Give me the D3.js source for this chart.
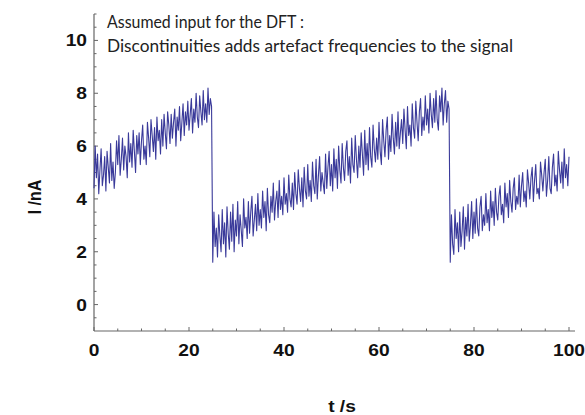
<!DOCTYPE html>
<html><head><meta charset="utf-8">
<script src="https://cdn.jsdelivr.net/npm/d3@7"></script>
<style>body{margin:0;background:#fff}svg{display:block}</style>
</head><body>
<script>
// time step of the samples (s)
const dt = 0.25;
// current values I (nA), ramp 1: t = 0 .. 24.75
const seg1 = [4.4,6.0,4.8,5.7,4.2,5.1,5.9,4.5,4.9,5.6,
4.3,5.8,5.2,4.6,6.1,4.7,5.4,4.4,5.0,6.2,
5.3,6.4,4.9,5.5,6.3,5.1,6.0,5.6,4.8,6.5,
5.4,6.1,5.2,6.6,5.8,5.0,6.4,5.7,6.5,5.3,
6.2,6.8,5.5,6.0,5.3,6.9,6.3,5.6,7.0,6.4,
5.8,6.7,5.5,7.1,6.2,6.6,5.7,7.0,6.0,7.2,
6.5,5.9,7.3,6.8,6.1,7.2,6.3,6.9,7.4,6.0,
7.1,6.6,7.5,6.2,6.9,7.6,6.4,7.3,6.8,7.7,
6.6,7.2,7.8,6.5,7.4,6.9,8.0,7.1,6.7,7.9,
7.3,6.8,8.1,7.0,7.6,6.9,8.2,7.2,7.8,7.5];
// ramp 2: t = 25 .. 74.75
const seg2 = [1.6,3.5,2.2,2.9,1.8,3.4,2.6,2.0,3.6,2.3,
3.1,1.8,3.7,2.7,2.1,3.5,2.4,3.8,2.0,3.2,
2.6,3.9,2.3,3.4,2.8,2.2,4.0,2.9,3.3,2.5,
3.9,2.7,3.5,4.1,2.6,3.2,3.8,2.8,4.2,3.0,
3.6,2.9,4.3,3.3,3.9,2.8,4.4,3.4,3.1,4.1,
3.5,4.6,3.2,3.9,4.3,3.3,4.7,3.6,4.1,3.4,
4.8,3.8,4.2,3.5,4.9,4.0,3.7,4.6,3.6,5.0,
4.2,3.8,5.1,4.4,3.9,4.8,3.7,5.2,4.3,4.0,
5.3,4.1,4.7,3.9,5.4,4.5,4.2,5.5,4.0,4.9,
5.6,4.3,5.0,4.6,4.2,5.7,4.4,5.2,5.8,4.5,
5.3,4.3,5.9,4.8,5.5,4.4,6.0,5.1,4.6,6.1,
5.2,4.7,5.8,6.2,4.9,5.6,4.6,6.3,5.3,5.0,
6.4,5.5,4.8,6.0,5.2,6.5,5.7,4.9,6.6,5.3,
6.1,5.1,6.7,5.6,5.2,6.8,5.9,5.4,6.3,5.5,
6.9,5.8,5.3,7.0,6.2,5.6,6.6,7.1,5.5,6.4,
5.8,7.2,6.3,5.7,6.9,6.0,7.3,5.9,6.5,7.0,
6.1,7.4,6.6,5.9,7.5,6.4,6.8,6.0,7.6,6.7,
6.3,7.7,6.9,6.2,7.3,7.8,6.4,7.1,6.6,7.9,
6.8,7.4,6.5,8.0,7.2,6.7,7.8,6.9,8.1,7.0,
6.6,7.9,7.3,8.2,6.8,7.6,8.1,6.9,7.7,7.4];
// ramp 3: t = 75 .. 100
const seg3 = [1.6,3.4,2.3,1.9,3.6,2.5,3.1,2.0,3.5,2.2,
2.8,3.7,2.1,3.3,2.6,3.8,2.4,3.0,3.9,2.5,
3.5,2.7,4.0,2.9,2.6,3.7,4.1,2.8,3.4,3.0,
4.2,3.1,3.6,2.8,4.3,3.3,3.9,3.0,4.4,3.5,
3.2,4.1,4.5,3.4,3.8,3.1,4.6,3.7,4.2,3.3,
4.7,3.9,3.5,4.4,4.8,3.6,4.1,3.8,4.9,3.7,
4.5,5.0,3.9,4.3,3.7,5.1,4.6,4.0,4.8,5.2,
3.9,4.7,5.3,4.2,4.4,4.0,5.4,4.9,4.3,5.0,
5.5,4.1,4.7,5.6,4.4,4.2,5.2,5.7,4.5,4.9,
4.3,5.8,5.1,4.6,5.4,4.4,5.9,4.8,5.3,4.5,5.6];
const xTicks = [0,20,40,60,80,100];
const yTicks = [0,2,4,6,8,10];
const titleLines = ["Assumed input for the DFT :","Discontinuities adds artefact frequencies to the signal"];
const xLabel = "t /s", yLabel = "I /nA";

const values = seg1.concat(seg2, seg3);
const data = values.map((v,i)=>({t:i*dt, v}));

const W=585,H=415;
const svg=d3.select("body").append("svg").attr("width",W).attr("height",H);
const x=d3.scaleLinear().domain([0,100]).range([94,569]);
const y=d3.scaleLinear().domain([-1,11]).range([331,14]);
const axisCol="#666";

svg.append("line").attr("x1",x(0)).attr("x2",x(100)+6).attr("y1",y(-1)).attr("y2",y(-1)).attr("stroke",axisCol).attr("stroke-width",1.2);
svg.append("line").attr("x1",x(0)).attr("x2",x(0)).attr("y1",y(-1)).attr("y2",y(11)).attr("stroke",axisCol).attr("stroke-width",1.2);

const xMinor=d3.range(0,101,5);
svg.selectAll(".xt").data(xMinor).join("line")
  .attr("x1",d=>x(d)).attr("x2",d=>x(d))
  .attr("y1",y(-1)).attr("y2",d=>y(-1)-(d%20===0?4:2.5))
  .attr("stroke",axisCol).attr("stroke-width",1);
const yMinor=d3.range(-0.5,11.01,0.5);
svg.selectAll(".yt").data(yMinor).join("line")
  .attr("x1",x(0)).attr("x2",d=>x(0)+(d%2===0?4:2.5))
  .attr("y1",d=>y(d)).attr("y2",d=>y(d))
  .attr("stroke",axisCol).attr("stroke-width",1);

const lab="'Liberation Sans',Arial,sans-serif";
svg.selectAll(".xl").data(xTicks).join("text")
  .attr("transform",d=>`translate(${x(d)},356) scale(1.2,1)`).attr("text-anchor","middle")
  .attr("font-family",lab).attr("font-weight","bold").attr("font-size",16).attr("fill","#111")
  .text(d=>d);
svg.selectAll(".yl").data(yTicks).join("text")
  .attr("transform",d=>`translate(87,${y(d)+6}) scale(1.2,1)`).attr("text-anchor","end")
  .attr("font-family",lab).attr("font-weight","bold").attr("font-size",16).attr("fill","#111")
  .text(d=>d);

svg.append("text").attr("transform","translate(342,412) scale(1.2,1)").attr("text-anchor","middle")
  .attr("font-family",lab).attr("font-weight","bold").attr("font-size",16).attr("fill","#111").text(xLabel);
svg.append("text").attr("transform","translate(41,197) rotate(-90) scale(1,1.2)").attr("text-anchor","middle")
  .attr("font-family",lab).attr("font-weight","bold").attr("font-size",16).attr("fill","#111").text(yLabel);

const line=d3.line().x(d=>x(d.t)).y(d=>y(d.v));
svg.append("path").datum(data).attr("d",line).attr("fill","none")
  .attr("stroke","#3a3a9a").attr("stroke-width",1.1).attr("stroke-linejoin","round");

svg.selectAll(".tt").data(titleLines).join("text")
  .attr("x",107).attr("y",(d,i)=>28+i*24)
  .attr("font-family","Lato,'Open Sans',sans-serif").attr("font-size",16.5).attr("fill","#222")
  .attr("textLength",(d,i)=>i===0?197:406).attr("lengthAdjust","spacingAndGlyphs")
  .text(d=>d);
</script>
</body></html>
